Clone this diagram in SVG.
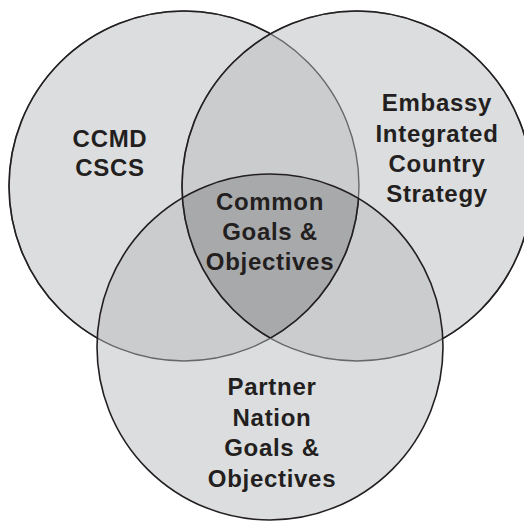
<svg xmlns="http://www.w3.org/2000/svg" width="524" height="521" viewBox="0 0 524 521">
<style>
.f1{fill:#dcdddf}
.f2{fill:#cbcccd}
.f3{fill:#a8a9ab}
.sg{fill:none;stroke:#67686a;stroke-width:1.4}
.sb{fill:none;stroke:#231f20;stroke-width:1.6}
text{font-family:"Liberation Sans",Arial,Helvetica,sans-serif;font-weight:bold;font-size:24px;letter-spacing:0.7px;fill:#231f20;text-anchor:middle}
</style>
<defs>
<clipPath id="cL"><circle cx="184" cy="186" r="175"/></clipPath>
<clipPath id="cR"><circle cx="357" cy="186" r="175"/></clipPath>
<clipPath id="cB"><circle cx="270" cy="347" r="173"/></clipPath>
<mask id="outRB" maskUnits="userSpaceOnUse" x="0" y="0" width="524" height="521">
<rect x="0" y="0" width="524" height="521" fill="#fff"/>
<circle cx="357" cy="186" r="175" fill="#000"/>
<circle cx="270" cy="347" r="173" fill="#000"/>
</mask>
<mask id="outB" maskUnits="userSpaceOnUse" x="0" y="0" width="524" height="521">
<rect x="0" y="0" width="524" height="521" fill="#fff"/>
<circle cx="270" cy="347" r="173" fill="#000"/>
</mask>
</defs>
<rect x="0" y="0" width="524" height="521" fill="#fff"/>
<g id="fills">
<circle class="f1" cx="184" cy="186" r="175"/>
<circle class="f1" cx="357" cy="186" r="175"/>
<circle class="f1" cx="270" cy="347" r="173"/>
<g clip-path="url(#cL)"><circle class="f2" cx="357" cy="186" r="175"/></g>
<g clip-path="url(#cL)"><circle class="f2" cx="270" cy="347" r="173"/></g>
<g clip-path="url(#cR)"><circle class="f2" cx="270" cy="347" r="173"/></g>
<g clip-path="url(#cL)"><g clip-path="url(#cR)"><circle class="f3" cx="270" cy="347" r="173"/></g></g>
</g>
<g id="outlines">
<circle class="sg" cx="184" cy="186" r="175"/>
<circle class="sg" cx="357" cy="186" r="175"/>
<circle class="sb" cx="184" cy="186" r="175" mask="url(#outRB)"/>
<circle class="sb" cx="357" cy="186" r="175" mask="url(#outB)"/>
<circle class="sb" cx="270" cy="347" r="173"/>
<g clip-path="url(#cL)"><g clip-path="url(#cB)"><circle class="sb" cx="357" cy="186" r="175"/></g></g>
<g clip-path="url(#cR)"><g clip-path="url(#cB)"><circle class="sb" cx="184" cy="186" r="175"/></g></g>
</g>
<g id="ccmd">
<text x="110" y="146.5">CCMD</text>
<text x="110" y="175.5">CSCS</text>
</g>
<g id="embassy">
<text x="437" y="111">Embassy</text>
<text x="437" y="141.5">Integrated</text>
<text x="437" y="171.5">Country</text>
<text x="437" y="201.5">Strategy</text>
</g>
<g id="common">
<text x="270" y="210">Common</text>
<text x="270" y="240">Goals &amp;</text>
<text x="270" y="269.5">Objectives</text>
</g>
<g id="partner">
<text x="272" y="395">Partner</text>
<text x="272" y="425.5">Nation</text>
<text x="272" y="456">Goals &amp;</text>
<text x="272" y="486.5">Objectives</text>
</g>
</svg>
